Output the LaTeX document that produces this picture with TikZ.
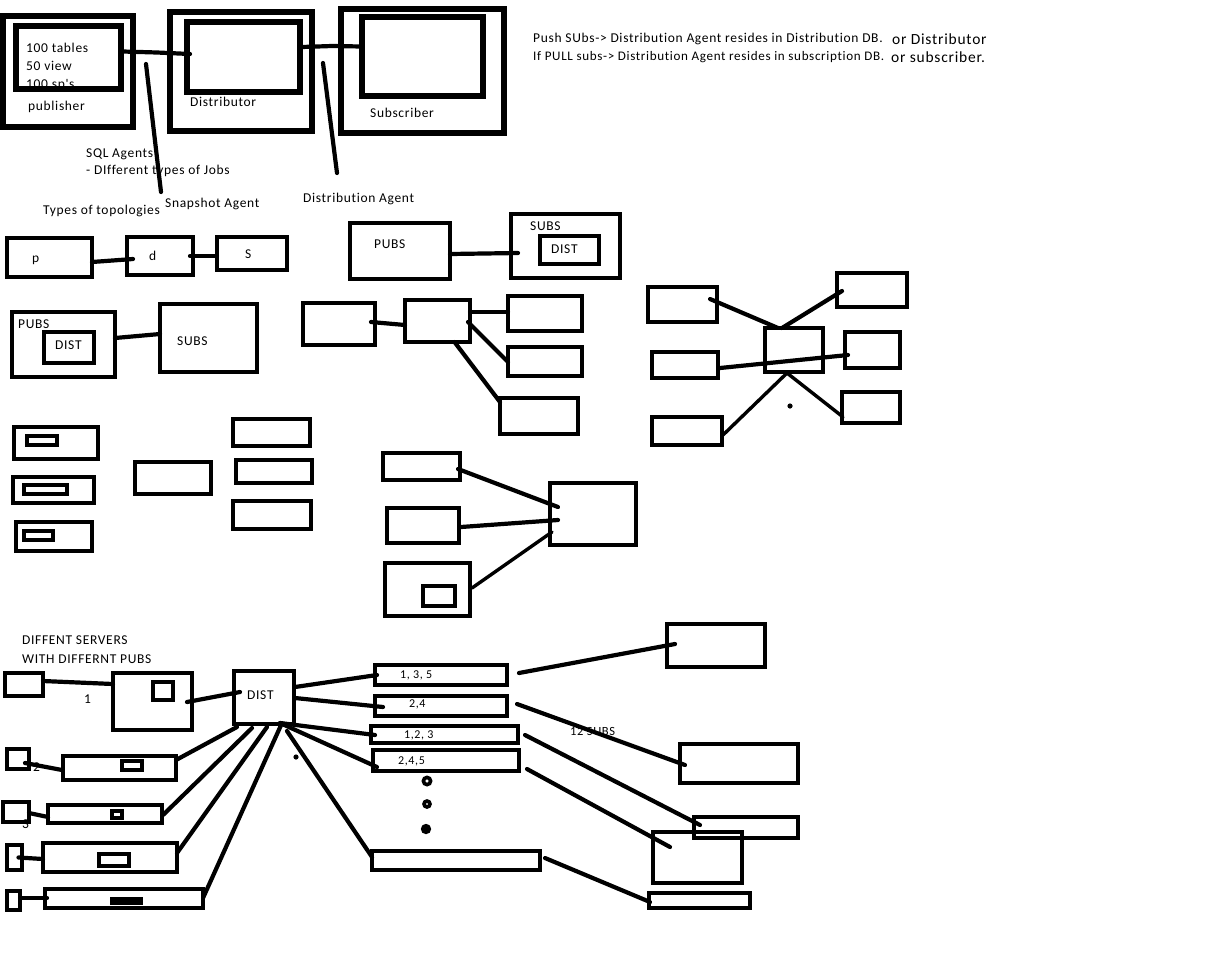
\documentclass[tikz,border=0pt]{standalone}
\usepackage{fontspec}
\setmainfont{Carlito}[Ligatures={TeXOff,NoCommon},LetterSpace=5]
\usetikzlibrary{fit,calc}
\begin{document}
\begin{tikzpicture}[x=1pt,y=-1pt,
  bx/.style={draw,line width=4.6pt,inner sep=0pt,outer sep=0pt},
  bigbx/.style={bx,line width=5.4pt},
  smbx/.style={bx,line width=4pt},
  ln/.style={line width=4.2pt,line cap=round},
  txt/.style={inner sep=0pt,anchor=base west,font=\fontsize{13.5}{15}\selectfont},
  stxt/.style={txt,font=\fontsize{12}{14}\selectfont}]
\useasboundingbox[fill=white] (0,0) rectangle (1223,978);

% ---------------- top section ----------------
\node[txt] (t100) at (26,52) {100 tables};
\node[txt] (t50) at (26,70) {50 view};
\node[txt] (tsp) at (26,88) {100 sp's};
\node[txt] (tpub) at (28,110) {publisher};
\node[txt] (tdis) at (190,106) {Distributor};
\node[txt] (tsub) at (370,117) {Subscriber};
\node[txt] (tsql) at (86,157) {SQL Agents};
\node[txt] (tjobs) at (86,174) {- DIfferent types of Jobs};
\node[txt] (tsnap) at (165,207) {Snapshot Agent};
\node[txt] (ttopo) at (43,214) {Types of topologies};
\node[txt] (tdag) at (303,202) {Distribution Agent};

\node[bigbx,fit={(3,16)(133,127)}] (pubout) {};
\node[bigbx,fit={(16,26)(121,89)}] (pubin) {};
\node[bigbx,fit={(170,12)(312,131)}] (distout) {};
\node[bigbx,fit={(187,22)(300,92)}] (distin) {};
\node[bigbx,fit={(341,9)(504,133)}] (subout) {};
\node[bigbx,fit={(362,17)(483,96)}] (subin) {};

\draw[ln] ($(pubin.east)+(2,-6)$) -- ++(34,1) -- ($(distin.west)+(3,-3)$);
\draw[ln] ($(distin.east)+(2,-10)$) -- ++(30,-1) -- ($(subin.west)+(0,-10)$);

\coordinate (snapA) at (146,64);
\coordinate (snapB) at (161,192);
\coordinate (dagA) at (323,63);
\coordinate (dagB) at (337,173);
\draw[ln] (snapA) -- (snapB);
\draw[ln] (dagA) -- (dagB);

\node[txt] (push) at (533,42) {Push SUbs-> Distribution Agent resides in Distribution DB.};
\node[txt,font=\fontsize{15.5}{17}\selectfont] (pushor) at (892,44) {or Distributor};
\node[txt,font=\fontsize{13.1}{15}\selectfont] (pull) at (533,60) {If PULL subs-> Distribution Agent resides in subscription DB.};
\node[txt,font=\fontsize{15.5}{17}\selectfont] (pullor) at (891,62) {or subscriber.};

% ---------------- topologies row 1 ----------------
\node[bx,fit={(7,238)(92,277)}] (pbox) {};
\node[bx,fit={(127,237)(193,275)}] (dbox) {};
\node[bx,fit={(217,237)(287,270)}] (sbox) {};
\node[txt] (tp) at (32,262) {p};
\node[txt] (td) at (149,260) {d};
\node[txt] (ts) at (245,258) {S};
\draw[ln] ($(pbox.east)+(0,4.5)$) -- ($(dbox.west)+(6,3)$);
\draw[ln] ($(dbox.east)+(-3,0)$) -- ($(sbox.west)+(0,2.5)$);

\node[bx,fit={(350,223)(450,279)}] (pubs1) {};
\node[txt] (tpubs1) at (374,248) {PUBS};
\node[bx,fit={(511,214)(620,278)}] (subs1) {};
\node[bx,fit={(540,236)(599,264)}] (dist1) {};
\node[txt] (tsubs1) at (530,230) {SUBS};
\node[txt] (tdist1) at (551,253) {DIST};
\draw[ln] ($(pubs1.east)+(0,3)$) -- ($(subs1.west)+(7,7)$);

% ---------------- topologies row 2 ----------------
\node[bx,fit={(12,312)(115,377)}] (pubs2) {};
\node[bx,fit={(44,332)(94,363)}] (dist2) {};
\node[txt] (tpubs2) at (18,328) {PUBS};
\node[txt] (tdist2) at (55,349) {DIST};
\node[bx,fit={(160,304)(257,372)}] (subs2) {};
\node[txt] (tsubs2) at (177,345) {SUBS};
\draw[ln] ($(pubs2.east)+(0,-6.5)$) -- ($(subs2.west)+(0,-4)$);

\node[bx,fit={(303,303)(375,345)}] (ta) {};
\node[bx,fit={(405,300)(470,342)}] (tb) {};
\node[bx,fit={(508,296)(582,331)}] (tc) {};
\node[bx,fit={(508,347)(582,376)}] (tdd) {};
\node[bx,fit={(500,398)(578,434)}] (te) {};
\draw[ln] ($(ta.east)+(-4,-2)$) -- ($(tb.west)+(0,4)$);
\draw[ln] ($(tb.east)+(0,-9)$) -- ($(tc.west)+(0,-1.5)$);
\draw[ln] ($(tb.east)+(-2,1)$) -- ($(tdd.west)+(0,0.5)$);
\draw[ln] ($(tb.south)+(17,0)$) -- ($(te.north west)+(0,4)$);

% ---------------- right cluster ----------------
\node[bx,fit={(648,287)(717,322)}] (rl1) {};
\node[bx,fit={(652,352)(718,378)}] (rl2) {};
\node[bx,fit={(652,417)(722,445)}] (rl3) {};
\node[bx,fit={(765,328)(823,372)}] (rc) {};
\node[bx,fit={(837,273)(907,307)}] (rr1) {};
\node[bx,fit={(845,332)(900,368)}] (rr2) {};
\node[bx,fit={(842,392)(900,423)}] (rr3) {};
\draw[ln] ($(rl1.east)+(-7,-5.5)$) -- ($(rc.north)+(-16,0)$);
\draw[ln] ($(rc.north)+(-12,0)$) -- ($(rr1.west)+(5,1)$);
\draw[ln] ($(rl2.east)+(2,3)$) -- ($(rr2.west)+(3,5)$);
\draw[ln,line width=3.4pt] ($(rl3.east)+(1,4)$) -- ($(rc.south)+(-7,1)$);
\draw[ln,line width=3.4pt] ($(rc.south)+(-7,1)$) -- ($(rr3.west)+(1,9.5)$);
\fill (790,406) circle (2.6);

% ---------------- row 3 ----------------
\node[bx,fit={(14,427)(98,459)}] (lb1) {};
\node[smbx,fit={(27,436)(57,445)}] (lbi1) {};
\node[bx,fit={(13,477)(94,503)}] (lb2) {};
\node[smbx,fit={(24,485)(67,494)}] (lbi2) {};
\node[bx,fit={(16,522)(92,551)}] (lb3) {};
\node[smbx,fit={(24,531)(53,540)}] (lbi3) {};
\node[bx,fit={(135,462)(211,494)}] (mb) {};
\node[bx,fit={(233,419)(310,446)}] (c1) {};
\node[bx,fit={(236,460)(312,483)}] (c2) {};
\node[bx,fit={(233,501)(311,529)}] (c3) {};

\node[bx,fit={(383,453)(460,480)}] (m1) {};
\node[bx,fit={(387,508)(459,543)}] (m2) {};
\node[bx,fit={(385,563)(470,616)}] (m3) {};
\node[bx,fit={(423,586)(455,606)}] (m3i) {};
\node[bx,fit={(550,483)(636,545)}] (big) {};
\draw[ln] ($(m1.east)+(-2,2.5)$) -- ($(big.west)+(8,-7)$);
\draw[ln] ($(m2.east)+(2,1.5)$) -- ($(big.west)+(8,6)$);
\draw[ln,line width=3.4pt] ($(m3.east)+(2,-1.5)$) -- ($(big.west)+(2,18)$);

% ---------------- bottom section ----------------
\node[txt] (tdiff) at (22,644) {DIFFENT SERVERS};
\node[txt] (twith) at (22,663) {WITH DIFFERNT PUBS};
\node[txt] (tone) at (84,703) {1};
\node[txt] (ttwo) at (33,771) {2};
\node[txt] (tthree) at (22,828) {3};

\node[bx,fit={(5,673)(43,696)}] (s1) {};
\node[bx,fit={(113,673)(192,730)}] (p1) {};
\node[bx,fit={(153,682)(173,700)}] (p1i) {};
\node[bx,fit={(234,671)(294,724)}] (dist) {};
\node[txt] (tdist) at (247,699) {DIST};
\draw[ln] ($(s1.east)+(0,-3.5)$) -- ($(p1.west)+(0,-17.5)$);
\draw[ln] ($(p1.east)+(-5,0.5)$) -- ($(dist.west)+(6,-5.5)$);

\node[bx,fit={(7,749)(29,769)}] (s2) {};
\node[bx,fit={(63,756)(176,780)}] (p2) {};
\node[smbx,fit={(122,761)(142,770)}] (p2i) {};
\draw[ln] ($(s2.east)+(-4,4)$) -- ($(p2.west)+(-1,2)$);

\node[bx,fit={(3,802)(29,822)}] (s3) {};
\node[bx,fit={(48,805)(162,823)}] (p3) {};
\node[smbx,line width=4.5pt,fit={(112,811)(122,818)}] (p3i) {};
\draw[ln] ($(s3.east)+(0,1)$) -- ($(p3.west)+(0,3)$);

\node[bx,fit={(7,845)(22,870)}] (s4) {};
\node[bx,fit={(43,843)(177,872)}] (p4) {};
\node[smbx,fit={(99,854)(129,866)}] (p4i) {};
\draw[ln] ($(s4.center)+(4,0)$) -- ($(p4.west)+(0,1.5)$);

\node[bx,fit={(7,891)(20,910)}] (s5) {};
\node[bx,fit={(45,889)(203,908)}] (p5) {};
\fill (110,897) rectangle (143,905);
\draw[ln] ($(s5.east)+(0,-2.5)$) -- ($(p5.west)+(2,-0.5)$);

\draw[ln] ($(dist.south)+(-27,3)$) -- ($(p2.east)+(0,-8)$);
\draw[ln] ($(dist.south)+(-12,4)$) -- ($(p3.east)+(1,1)$);
\draw[ln] ($(dist.south)+(3,3)$) -- ($(p4.east)+(0,-4.5)$);
\draw[ln] ($(dist.south)+(18,-1)$) -- ($(p5.east)+(0,-0.5)$);

\node[bx,fit={(375,665)(507,685)}] (b1) {};
\node[bx,fit={(375,696)(507,716)}] (b2) {};
\node[bx,fit={(371,726)(518,743)}] (b3) {};
\node[bx,fit={(373,750)(519,771)}] (b4) {};
\node[bx,fit={(372,851)(540,870)}] (b5) {};
\node[stxt] (tb1) at (400,678) {1, 3, 5};
\node[stxt] (tb2) at (409,707) {2,4};
\node[stxt] (tb3) at (404,738) {1,2, 3};
\node[stxt] (tb4) at (398,764) {2,4,5};

\draw[ln] ($(dist.east)+(1,-10.5)$) -- ($(b1.west)+(2,0)$);
\draw[ln] ($(dist.east)+(1,0.5)$) -- ($(b2.west)+(8,1)$);
\draw[ln] ($(dist.south east)+(-14,-1)$) -- ($(b3.west)+(4,0.5)$);
\draw[ln] ($(dist.south east)+(-14,-1)$) -- ($(b4.west)+(4,6.5)$);
\draw[ln] ($(dist.south east)+(-7,7)$) -- ($(b5.west)+(0,-3.5)$);
\fill (296,757) circle (2.6);

\draw[line width=3.6pt] (427,781) circle (3.6);
\draw[line width=3.6pt] (427,804) circle (3.0);
\fill (426,829) circle (5.2);

\node[bx,fit={(667,624)(765,667)}] (r1) {};
\node[bx,fit={(680,744)(798,783)}] (r2) {};
\node[bx,fit={(694,817)(798,838)}] (r3) {};
\node[bx,fit={(653,832)(742,883)}] (r4) {};
\node[bx,fit={(649,893)(750,908)}] (r5) {};
\node[txt,font=\fontsize{12.5}{14}\selectfont] (t12) at (570,735) {12 SUBS};

\draw[ln] ($(b1.east)+(12,-2)$) -- ($(r1.west)+(8,-1.5)$);
\draw[ln] ($(b2.east)+(10,-2)$) -- ($(r2.west)+(5,1.5)$);
\draw[ln] ($(b3.east)+(7,0.5)$) -- ($(r3.west)+(6,-2.5)$);
\draw[ln] ($(b4.east)+(8,8.5)$) -- ($(r4.west)+(17,-10.5)$);
\draw[ln] ($(b5.east)+(5,-2.5)$) -- ($(r5.west)+(1,1.5)$);
\end{tikzpicture}
\end{document}
